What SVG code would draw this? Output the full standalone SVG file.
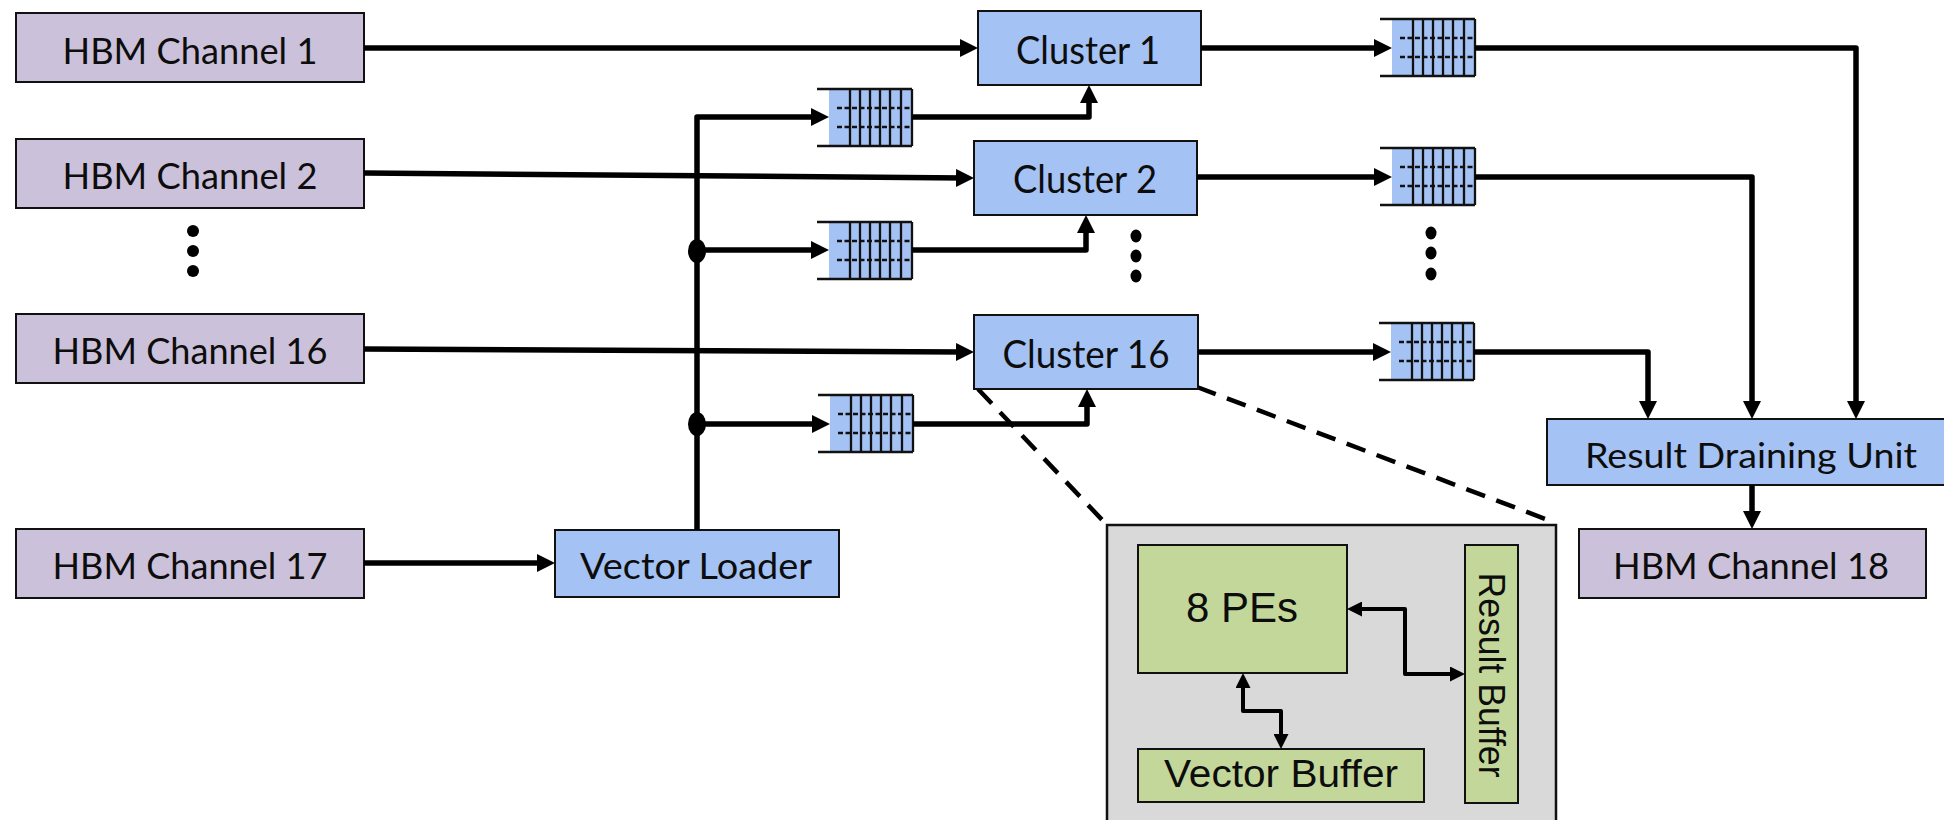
<svg xmlns="http://www.w3.org/2000/svg" width="1944" height="820" viewBox="0 0 1944 820">
  <defs>
    <style>
      .hbm { fill: #ccc1da; stroke: #111; stroke-width: 2; }
      .blk { fill: #a4c2f4; stroke: #111; stroke-width: 2; }
      .grn { fill: #c4d79b; stroke: #111; stroke-width: 2; }
      .inset { fill: #d9d9d9; stroke: #111; stroke-width: 2.5; }
      .lbl { font-family: Lato, "Liberation Sans", sans-serif; fill: #0d0d0d; text-anchor: middle; }
      .lbl-a { font-family: "Liberation Sans", Arial, sans-serif; fill: #0d0d0d; text-anchor: middle; }
      .wire { fill: none; stroke: #000; stroke-width: 5.5; stroke-linejoin: round; }
      .wire-s { fill: none; stroke: #000; stroke-width: 4; stroke-linejoin: round; }
      .zoom { fill: none; stroke: #000; stroke-width: 4.5; stroke-dasharray: 20 12; }
      .q-fill { fill: #a4c2f4; }
      .q-edge { stroke: #111; stroke-width: 2.3; fill: none; }
      .q-dash { stroke: #111; stroke-width: 2.5; stroke-dasharray: 5 2.5; fill: none; }
    </style>
    <marker id="ah" viewBox="0 0 18 18" refX="8" refY="9" markerWidth="18" markerHeight="18" markerUnits="userSpaceOnUse" orient="auto">
      <path d="M0,0 L18,9 L0,18 z" fill="#000"/>
    </marker>
    <marker id="ahs" viewBox="0 0 15 15" refX="6" refY="7.5" markerWidth="15" markerHeight="15" markerUnits="userSpaceOnUse" orient="auto-start-reverse">
      <path d="M0,0 L15,7.5 L0,15 z" fill="#000"/>
    </marker>
    <!-- FIFO queue symbol, origin at top-left of its open end -->
    <g id="fifo">
      <rect class="q-fill" x="12" y="0" width="83" height="57"/>
      <line class="q-edge" x1="0" y1="0" x2="95" y2="0"/>
      <line class="q-edge" x1="0" y1="57" x2="95" y2="57"/>
      <line class="q-dash" x1="20" y1="19" x2="95" y2="19"/>
      <line class="q-dash" x1="20" y1="38" x2="95" y2="38"/>
      <path class="q-edge" d="M33,0 V57 M43,0 V57 M53,0 V57 M63,0 V57 M73,0 V57 M84,0 V57 M95,0 V57"/>
    </g>
  </defs>

  <rect width="1944" height="820" fill="#fff"/>

  <!-- zoom-out of a cluster -->
  <g id="zoom-lines">
    <line class="zoom" x1="978" y1="389" x2="1107" y2="525"/>
    <line class="zoom" x1="1197" y1="387" x2="1556" y2="523"/>
  </g>

  <!-- memory channels -->
  <g id="hbm1"><rect class="hbm" x="16" y="13" width="348" height="69"/><text class="lbl" x="190" y="64" font-size="36" textLength="255" lengthAdjust="spacingAndGlyphs">HBM Channel 1</text></g>
  <g id="hbm2"><rect class="hbm" x="16" y="139" width="348" height="69"/><text class="lbl" x="190" y="189" font-size="36" textLength="255" lengthAdjust="spacingAndGlyphs">HBM Channel 2</text></g>
  <g id="hbm16"><rect class="hbm" x="16" y="314" width="348" height="69"/><text class="lbl" x="190" y="364" font-size="36" textLength="275" lengthAdjust="spacingAndGlyphs">HBM Channel 16</text></g>
  <g id="hbm17"><rect class="hbm" x="16" y="529" width="348" height="69"/><text class="lbl" x="190" y="579" font-size="36" textLength="275" lengthAdjust="spacingAndGlyphs">HBM Channel 17</text></g>
  <g id="hbm18"><rect class="hbm" x="1579" y="529" width="347" height="69"/><text class="lbl" x="1751" y="579" font-size="36" textLength="276" lengthAdjust="spacingAndGlyphs">HBM Channel 18</text></g>

  <!-- compute blocks -->
  <g id="cluster1"><rect class="blk" x="978" y="11" width="223" height="74"/><text class="lbl" x="1088" y="64" font-size="38" textLength="144" lengthAdjust="spacingAndGlyphs">Cluster 1</text></g>
  <g id="cluster2"><rect class="blk" x="974" y="141" width="223" height="74"/><text class="lbl" x="1085" y="193" font-size="38" textLength="144" lengthAdjust="spacingAndGlyphs">Cluster 2</text></g>
  <g id="cluster16"><rect class="blk" x="974" y="315" width="224" height="74"/><text class="lbl" x="1086" y="368" font-size="38" textLength="167" lengthAdjust="spacingAndGlyphs">Cluster 16</text></g>
  <g id="vector-loader"><rect class="blk" x="555" y="530" width="284" height="67"/><text class="lbl" x="696" y="579" font-size="37" textLength="232" lengthAdjust="spacingAndGlyphs">Vector Loader</text></g>
  <g id="draining-unit"><rect class="blk" x="1547" y="419" width="400" height="66"/><text class="lbl" x="1751" y="468" font-size="35" textLength="332" lengthAdjust="spacingAndGlyphs">Result Draining Unit</text></g>

  <!-- queues -->
  <g id="fifo-in-1"><use href="#fifo" x="817" y="89"/></g>
  <g id="fifo-in-2"><use href="#fifo" x="817" y="222"/></g>
  <g id="fifo-in-16"><use href="#fifo" x="818" y="395"/></g>
  <g id="fifo-out-1"><use href="#fifo" x="1380" y="19"/></g>
  <g id="fifo-out-2"><use href="#fifo" x="1380" y="148"/></g>
  <g id="fifo-out-16"><use href="#fifo" x="1379" y="323"/></g>

  <!-- ellipsis marks -->
  <g id="ellipses" fill="#000">
    <circle cx="193" cy="231" r="6"/><circle cx="193" cy="251" r="6"/><circle cx="193" cy="271" r="6"/>
    <ellipse cx="1136" cy="236" rx="5.5" ry="6.5"/><ellipse cx="1136" cy="256" rx="5.5" ry="6.5"/><ellipse cx="1136" cy="276" rx="5.5" ry="6.5"/>
    <ellipse cx="1431" cy="233" rx="5.5" ry="6.5"/><ellipse cx="1431" cy="253" rx="5.5" ry="6.5"/><ellipse cx="1431" cy="274" rx="5.5" ry="6.5"/>
  </g>

  <!-- connectors -->
  <g id="connectors">
    <path class="wire" d="M364,48 H968" marker-end="url(#ah)"/>
    <path class="wire" d="M364,173 L964,178" marker-end="url(#ah)"/>
    <path class="wire" d="M364,349 L964,352" marker-end="url(#ah)"/>
    <path class="wire" d="M364,563 H545" marker-end="url(#ah)"/>

    <!-- vector broadcast bus -->
    <path class="wire" d="M697,530 V117 H819" marker-end="url(#ah)"/>
    <path class="wire" d="M697,250 H819" marker-end="url(#ah)"/>
    <path class="wire" d="M697,424 H820" marker-end="url(#ah)"/>
    <ellipse cx="697" cy="251" rx="9" ry="12" fill="#000"/>
    <ellipse cx="697" cy="424" rx="9" ry="12" fill="#000"/>

    <path class="wire" d="M912,117 H1089 V95" marker-end="url(#ah)"/>
    <path class="wire" d="M912,250 H1086 V225" marker-end="url(#ah)"/>
    <path class="wire" d="M913,424 H1087 V399" marker-end="url(#ah)"/>

    <path class="wire" d="M1201,48 H1382" marker-end="url(#ah)"/>
    <path class="wire" d="M1197,177 H1382" marker-end="url(#ah)"/>
    <path class="wire" d="M1198,352 H1381" marker-end="url(#ah)"/>

    <path class="wire" d="M1475,48 H1856 V409" marker-end="url(#ah)"/>
    <path class="wire" d="M1475,177 H1752 V409" marker-end="url(#ah)"/>
    <path class="wire" d="M1474,352 H1648 V409" marker-end="url(#ah)"/>

    <path class="wire" d="M1752,485 V519" marker-end="url(#ah)"/>
  </g>

  <!-- cluster internals -->
  <g id="cluster-detail">
    <rect class="inset" x="1107" y="525" width="449" height="310"/>
    <g id="pes"><rect class="grn" x="1138" y="545" width="209" height="128"/><text class="lbl-a" x="1242" y="622" font-size="42">8 PEs</text></g>
    <g id="vector-buffer"><rect class="grn" x="1138" y="749" width="286" height="53"/><text class="lbl-a" x="1281" y="787" font-size="38" textLength="234" lengthAdjust="spacingAndGlyphs">Vector Buffer</text></g>
    <g id="result-buffer"><rect class="grn" x="1465" y="545" width="53" height="258"/><text class="lbl-a" transform="translate(1479,675) rotate(90)" x="0" y="0" font-size="36" textLength="205" lengthAdjust="spacingAndGlyphs">Result Buffer</text></g>
    <g id="detail-connectors">
      <path class="wire-s" d="M1356,609 H1405 V674 H1456" marker-start="url(#ahs)" marker-end="url(#ahs)"/>
      <path class="wire-s" d="M1243,682 V711 H1281 V740" marker-start="url(#ahs)" marker-end="url(#ahs)"/>
    </g>
  </g>
</svg>
